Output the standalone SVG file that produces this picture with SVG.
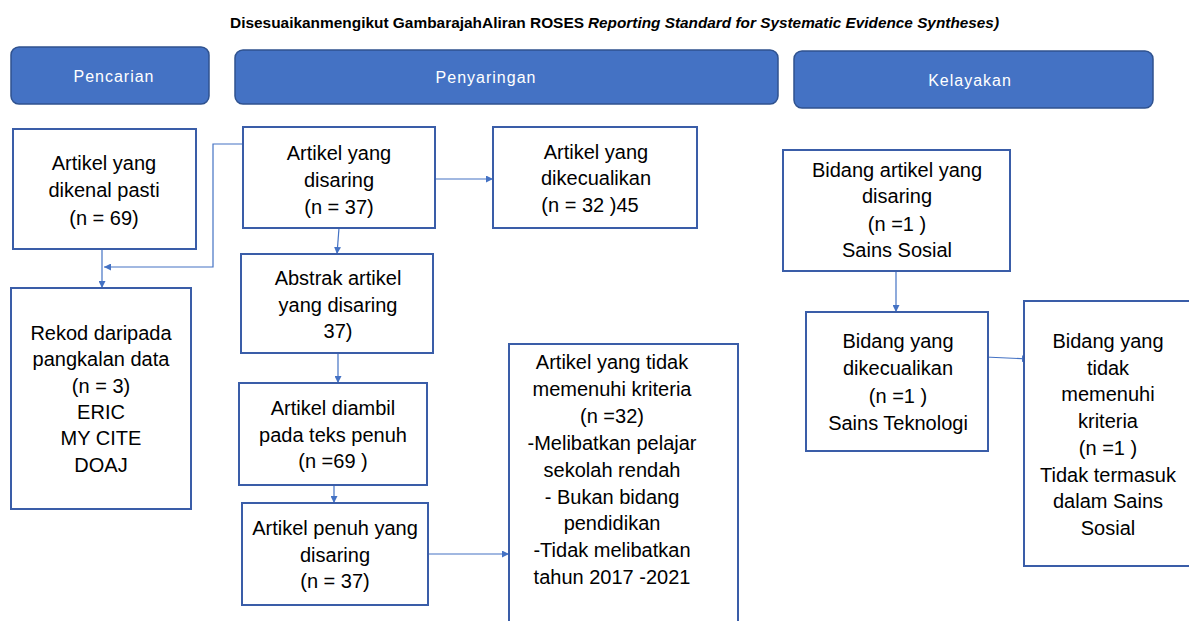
<svg xmlns="http://www.w3.org/2000/svg" width="1189" height="621" viewBox="0 0 1189 621">
<defs>
<marker id="ar" viewBox="0 0 10 10" refX="10" refY="5" markerWidth="7" markerHeight="7" markerUnits="userSpaceOnUse" orient="auto">
<path d="M0,0 L10,5 L0,10 z" fill="#4472C4"/>
</marker>
<style>
.hdr{fill:#4472C4;stroke:#2F528F;stroke-width:1.5}
.ht{font-family:"Liberation Sans",Arial,sans-serif;font-size:16px;fill:#ffffff;text-anchor:middle;letter-spacing:1px}
.box{fill:#ffffff;stroke:#3A5DA8;stroke-width:2}
.t{font-family:"Liberation Sans",Arial,sans-serif;font-size:20px;fill:#000000;text-anchor:middle}
.c{fill:none;stroke:#4472C4;stroke-width:1.2}
.title{font-family:"Liberation Sans",Arial,sans-serif;font-size:15px;font-weight:bold;fill:#000}
</style>
</defs>
<rect width="1189" height="621" fill="#ffffff"/>
<g id="title">
<text class="title" x="230" y="28" textLength="354" lengthAdjust="spacingAndGlyphs">Disesuaikanmengikut GambarajahAliran ROSES</text>
<text class="title" x="588" y="28" font-style="italic" textLength="411" lengthAdjust="spacingAndGlyphs">Reporting Standard for Systematic Evidence Syntheses)</text>
</g>
<g id="hdr-pencarian"><rect class="hdr" x="11" y="47" width="198" height="57" rx="8"/><text class="ht" x="114" y="82">Pencarian</text></g>
<g id="hdr-penyaringan"><rect class="hdr" x="235" y="50" width="543" height="54" rx="8"/><text class="ht" x="486" y="83">Penyaringan</text></g>
<g id="hdr-kelayakan"><rect class="hdr" x="794" y="51" width="359" height="57" rx="8"/><text class="ht" x="970" y="86">Kelayakan</text></g>

<g id="connectors">
<polyline class="c" points="243,144 213,144 213,267 104,267" marker-end="url(#ar)"/>
<line class="c" x1="102" y1="249" x2="102" y2="288" marker-end="url(#ar)"/>
<line class="c" x1="435" y1="179" x2="493" y2="179" marker-end="url(#ar)"/>
<line class="c" x1="339" y1="228" x2="337" y2="254" marker-end="url(#ar)"/>
<line class="c" x1="338" y1="353" x2="338" y2="383" marker-end="url(#ar)"/>
<line class="c" x1="334" y1="486" x2="334" y2="503" marker-end="url(#ar)"/>
<line class="c" x1="428" y1="554" x2="509" y2="554" marker-end="url(#ar)"/>
<line class="c" x1="896" y1="271" x2="896" y2="312" marker-end="url(#ar)"/>
<line class="c" x1="985" y1="357" x2="1029" y2="359" marker-end="url(#ar)"/>
</g>

<g id="n-dikenal"><rect class="box" x="13" y="129" width="183" height="120"/>
<text class="t"><tspan x="104" y="170">Artikel yang</tspan><tspan x="104" y="197">dikenal pasti</tspan><tspan x="104" y="225">(n = 69)</tspan></text></g>

<g id="n-rekod"><rect class="box" x="11" y="288" width="180" height="221"/>
<text class="t"><tspan x="101" y="340">Rekod daripada</tspan><tspan x="101" y="366">pangkalan data</tspan><tspan x="101" y="393">(n = 3)</tspan><tspan x="101" y="419">ERIC</tspan><tspan x="101" y="445">MY CITE</tspan><tspan x="101" y="472">DOAJ</tspan></text></g>

<g id="n-disaring"><rect class="box" x="243" y="127" width="192" height="101"/>
<text class="t"><tspan x="339" y="160">Artikel yang</tspan><tspan x="339" y="187">disaring</tspan><tspan x="339" y="214">(n = 37)</tspan></text></g>

<g id="n-dikecualikan"><rect class="box" x="493" y="127" width="204" height="101"/>
<text class="t"><tspan x="596" y="159">Artikel yang</tspan><tspan x="596" y="185">dikecualikan</tspan><tspan x="590" y="212">(n = 32 )45</tspan></text></g>

<g id="n-abstrak"><rect class="box" x="241" y="254" width="192" height="99"/>
<text class="t"><tspan x="338" y="285">Abstrak artikel</tspan><tspan x="338" y="312">yang disaring</tspan><tspan x="338" y="338">37)</tspan></text></g>

<g id="n-diambil"><rect class="box" x="239" y="383" width="188" height="102"/>
<text class="t"><tspan x="333" y="415">Artikel diambil</tspan><tspan x="333" y="442">pada teks penuh</tspan><tspan x="333" y="468">(n =69 )</tspan></text></g>

<g id="n-penuh"><rect class="box" x="242" y="503" width="186" height="102"/>
<text class="t"><tspan x="335" y="535">Artikel penuh yang</tspan><tspan x="335" y="562">disaring</tspan><tspan x="335" y="588">(n = 37)</tspan></text></g>

<g id="n-tidak-memenuhi"><rect class="box" x="509" y="344" width="229" height="290"/>
<text class="t"><tspan x="612" y="369">Artikel yang tidak</tspan><tspan x="612" y="396">memenuhi kriteria</tspan><tspan x="612" y="423">(n =32)</tspan><tspan x="612" y="450">-Melibatkan pelajar</tspan><tspan x="612" y="477">sekolah rendah</tspan><tspan x="612" y="504">- Bukan bidang</tspan><tspan x="612" y="530">pendidikan</tspan><tspan x="612" y="557">-Tidak melibatkan</tspan><tspan x="612" y="584">tahun 2017 -2021</tspan></text></g>

<g id="n-bidang-disaring"><rect class="box" x="783" y="150" width="227" height="121"/>
<text class="t"><tspan x="897" y="177">Bidang artikel yang</tspan><tspan x="897" y="203">disaring</tspan><tspan x="897" y="231">(n =1 )</tspan><tspan x="897" y="257">Sains Sosial</tspan></text></g>

<g id="n-bidang-dikecualikan"><rect class="box" x="806" y="312" width="182" height="139"/>
<text class="t"><tspan x="898" y="348">Bidang yang</tspan><tspan x="898" y="375">dikecualikan</tspan><tspan x="898" y="403">(n =1 )</tspan><tspan x="898" y="430">Sains Teknologi</tspan></text></g>

<g id="n-bidang-tidak"><rect class="box" x="1024" y="301" width="180" height="265"/>
<text class="t"><tspan x="1108" y="348">Bidang yang</tspan><tspan x="1108" y="375">tidak</tspan><tspan x="1108" y="401">memenuhi</tspan><tspan x="1108" y="428">kriteria</tspan><tspan x="1108" y="455">(n =1 )</tspan><tspan x="1108" y="482">Tidak termasuk</tspan><tspan x="1108" y="508">dalam Sains</tspan><tspan x="1108" y="535">Sosial</tspan></text></g>
</svg>
